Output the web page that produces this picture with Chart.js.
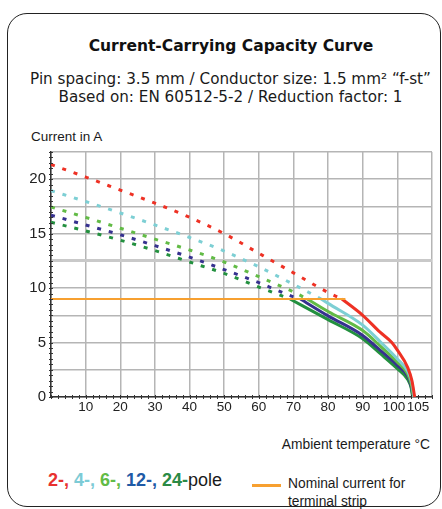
<!DOCTYPE html>
<html>
<head>
<meta charset="utf-8">
<script src="https://cdn.jsdelivr.net/npm/chart.js@4.4.1/dist/chart.umd.min.js"></script>
<style>
html, body { margin: 0; padding: 0; background: #fff; }
body { width: 442px; height: 509px; position: relative; overflow: hidden; font-family: "Liberation Sans", Arial, sans-serif; color: #1a1a1a; }
.card { position: absolute; left: 7px; top: 13px; width: 434px; height: 494px; box-sizing: border-box; border: 1.5px solid #222; border-radius: 20px; }
.txt { position: absolute; white-space: nowrap; }
#title { left: 0; width: 462px; top: 37px; text-align: center; font-family: "DejaVu Sans", sans-serif; font-weight: bold; font-size: 15.5px; color: #111; }
#sub1 { left: 0; width: 461px; top: 70px; text-align: center; font-family: "DejaVu Sans", sans-serif; font-size: 15.2px; }
#sub2 { left: 0; width: 461px; top: 88px; text-align: center; font-family: "DejaVu Sans", sans-serif; font-size: 15.2px; }
#yname { left: 31px; top: 129px; font-size: 13.5px; }
#xname { right: 12px; top: 437px; font-size: 13.8px; }
#poles { left: 48px; top: 470px; font-size: 18px; }
#poles b { font-weight: bold; }
#nomline { position: absolute; left: 252px; top: 484px; width: 29px; height: 2.5px; background: #f7a030; }
#nom { left: 288px; top: 475px; font-size: 13.8px; line-height: 18px; }
#wrap { position: absolute; left: 0; top: 0; width: 442px; height: 509px; }
</style>
</head>
<body>
<div class="card"></div>
<div class="txt" id="title">Current-Carrying Capacity Curve</div>
<div class="txt" id="sub1">Pin spacing: 3.5 mm / Conductor size: 1.5 mm² “f-st”</div>
<div class="txt" id="sub2">Based on: EN 60512-5-2 / Reduction factor: 1</div>
<div class="txt" id="yname">Current in A</div>
<div class="txt" id="xname">Ambient temperature °C</div>
<div class="txt" id="poles"><b style="color:#e8312f">2-, </b><b style="color:#7ccbd6">4-, </b><b style="color:#62bb46">6-, </b><b style="color:#1f5aa6">12-, </b><b style="color:#2b8a45">24-</b>pole</div>
<div id="nomline"></div>
<div class="txt" id="nom">Nominal current for<br>terminal strip</div>
<div id="wrap"><canvas id="chart"></canvas></div>
<script>
// Werte (Temperatur in °C, Strom in A)
const dotT2 = [0, 10, 20, 30, 40, 50, 60, 70, 80, 84];
const dotI2 = [21.35, 20.2, 19.0, 17.8, 16.5, 15.0, 13.2, 11.4, 9.6, 9.0];
const solT2 = [84, 90, 95, 98.4, 100, 103, 104.2, 105];
const solI2 = [9.0, 7.5, 5.95, 5.0, 4.3, 2.7, 1.5, 0];

const dotT4 = [0, 10, 20, 30, 40, 50, 60, 70, 78];
const dotI4 = [18.95, 17.95, 16.9, 15.8, 14.65, 13.4, 11.95, 10.35, 9.0];
const solT4 = [78, 80, 90, 95, 100, 103, 104.2, 104.8];
const solI4 = [9.0, 8.6, 6.6, 5.1, 3.5, 2.35, 1.3, 0];

const dotT6 = [0, 10, 20, 30, 40, 50, 60, 70, 74];
const dotI6 = [17.45, 16.5, 15.5, 14.5, 13.5, 12.4, 11.05, 9.65, 9.0];
const solT6 = [74, 80, 90, 95, 100, 103, 104, 104.6];
const solI6 = [9.0, 7.85, 6.1, 4.7, 3.2, 2.1, 1.2, 0];

const dotT12 = [0, 10, 20, 30, 40, 50, 60, 70, 72];
const dotI12 = [16.7, 15.8, 14.9, 13.9, 12.85, 11.7, 10.5, 9.2, 9.0];
const solT12 = [72, 80, 90, 95, 100, 103, 104, 104.5];
const solI12 = [9.0, 7.45, 5.65, 4.3, 2.9, 1.9, 1.0, 0];

const dotT24 = [0, 10, 20, 30, 40, 50, 60, 69];
const dotI24 = [16.05, 15.25, 14.4, 13.45, 12.4, 11.35, 10.1, 9.0];
const solT24 = [69, 80, 90, 95, 100, 103, 104, 104.4];
const solI24 = [9.0, 7.1, 5.35, 4.0, 2.6, 1.6, 0.8, 0];

// Nennstrom der Leiste
const nomT = [0, 85];
const nomI = [9, 9];

const xTicks = [0, 10, 20, 30, 40, 50, 60, 70, 80, 90, 100, 105, 110];

const series = [
    { label: "2-pole",  color: "#ee3124", dT: dotT2,  dI: dotI2,  sT: solT2,  sI: solI2 },
    { label: "4-pole",  color: "#7dcfd4", dT: dotT4,  dI: dotI4,  sT: solT4,  sI: solI4 },
    { label: "6-pole",  color: "#62bb46", dT: dotT6,  dI: dotI6,  sT: solT6,  sI: solI6 },
    { label: "12-pole", color: "#36318f", dT: dotT12, dI: dotI12, sT: solT12, sI: solI12 },
    { label: "24-pole", color: "#23903f", dT: dotT24, dI: dotI24, sT: solT24, sI: solI24 }
];

const pts = (xs, ys) => xs.map((x, i) => ({ x: x, y: ys[i] }));

const datasets = [{
    label: "Nominal current",
    data: pts(nomT, nomI),
    borderColor: "#f7a030",
    borderWidth: 1.8,
    pointRadius: 0
}];
series.forEach(s => {
    datasets.push({
        label: s.label + " (dotted)",
        data: pts(s.dT, s.dI),
        borderColor: s.color,
        borderWidth: 3,
        borderDash: [4, 8],
        pointRadius: 0,
        cubicInterpolationMode: "monotone"
    });
    datasets.push({
        label: s.label,
        data: pts(s.sT, s.sI),
        borderColor: s.color,
        borderWidth: 3,
        pointRadius: 0,
        cubicInterpolationMode: "monotone"
    });
});

// kleine Teilstriche an den Achsen
const minorTicks = {
    id: "minorTicks",
    afterDraw(chart) {
        const { ctx, scales: { x, y } } = chart;
        ctx.save();
        ctx.strokeStyle = "#333";
        ctx.lineWidth = 1;
        for (let v = 0; v <= 22.5; v += 0.5) {
            const py = Math.round(y.getPixelForValue(v)) + 0.5;
            ctx.beginPath();
            ctx.moveTo(x.left - 2, py);
            ctx.lineTo(x.left + 2, py);
            ctx.stroke();
        }
        for (let v = 0; v <= 110; v += 2) {
            const px = Math.round(x.getPixelForValue(v)) + 0.5;
            ctx.beginPath();
            ctx.moveTo(px, y.bottom - 2);
            ctx.lineTo(px, y.bottom + 2);
            ctx.stroke();
        }
        ctx.restore();
    }
};

const tickFont = { family: "'Liberation Sans Narrow', 'Liberation Sans', Arial, sans-serif", size: 15 };

// Beschriftung der x-Achse: 100 und 105 etwas auseinanderruecken
const xLabel = v => {
    if (v === 0 || v === 110) return "";
    if (v === 100) return "100\u2002";
    if (v === 105) return "\u2002105";
    return v;
};

new Chart(document.getElementById("chart"), {
    type: "line",
    data: { datasets: datasets },
    options: {
        responsive: true,
        maintainAspectRatio: false,
        animation: false,
        layout: { padding: { left: 11, top: 152, right: 10, bottom: 82 } },
        plugins: { legend: { display: false }, tooltip: { enabled: false } },
        scales: {
            x: {
                type: "linear",
                min: 0,
                max: 110,
                afterBuildTicks: scale => { scale.ticks = xTicks.map(v => ({ value: v })); },
                afterFit: scale => { scale.height = 30; },
                ticks: {
                    autoSkip: false,
                    maxRotation: 0,
                    padding: 2,
                    color: "#222",
                    font: { family: tickFont.family, size: 13.5 },
                    callback: xLabel
                },
                grid: {
                    drawTicks: false,
                    color: ctx => ctx.tick && ctx.tick.value === 105 ? "rgba(0,0,0,0)" : "#b5b5b5",
                    lineWidth: 1.5
                },
                border: { color: "#333", width: 1.5 }
            },
            y: {
                min: 0,
                max: 22.5,
                afterBuildTicks: scale => {
                    const t = [];
                    for (let v = 0; v <= 22.5; v += 2.5) t.push({ value: v });
                    scale.ticks = t;
                },
                afterFit: scale => { scale.width = 40; },
                ticks: {
                    padding: 5,
                    color: "#222",
                    font: tickFont,
                    callback: v => v % 5 === 0 ? v : ""
                },
                grid: {
                    drawTicks: false,
                    color: ctx => ctx.tick && ctx.tick.value === 12.5 ? "#c9c9c9" : "#b5b5b5",
                    lineWidth: ctx => ctx.tick && ctx.tick.value === 12.5 ? 3 : 1.5
                },
                border: { color: "#333", width: 1.5 }
            }
        }
    },
    plugins: [minorTicks]
});
</script>
</body>
</html>
